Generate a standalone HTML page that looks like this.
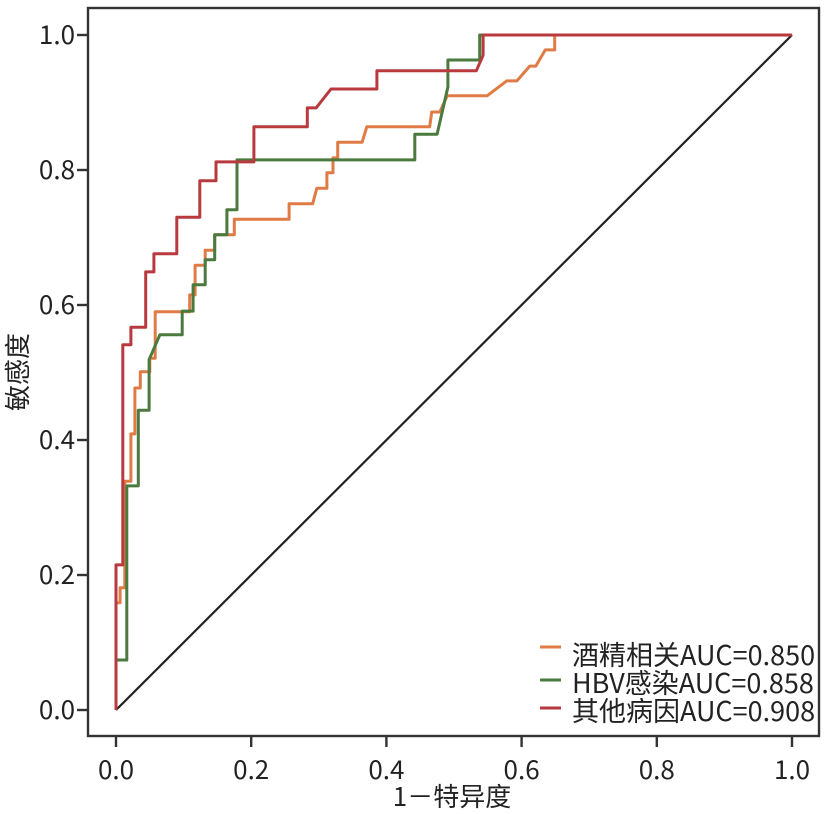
<!DOCTYPE html>
<html><head><meta charset="utf-8"><style>
body{margin:0;background:#fff;}
svg text{font-family:"Noto Sans CJK SC","Liberation Sans",sans-serif;fill:#222;}
</style></head><body>
<svg id="chart" width="827" height="809" viewBox="0 0 827 809" xmlns="http://www.w3.org/2000/svg">
<rect x="0" y="0" width="827" height="809" fill="#fff"/>
<g id="marks"></g>
<rect x="88" y="8" width="731" height="728" fill="none" stroke="#333" stroke-width="2.4"/>
<g id="ticks"></g>
<text x="452" y="806" font-size="26" text-anchor="middle">1－特异度</text>
<text transform="translate(27,372) rotate(-90)" font-size="26" text-anchor="middle">敏感度</text>
<g>
<line x1="540" y1="647" x2="561" y2="647" stroke="#e07b45" stroke-width="3"/>
<text x="572" y="665" font-size="27">酒精相关AUC=0.850</text>
<line x1="540" y1="680" x2="561" y2="680" stroke="#4a7a3e" stroke-width="3"/>
<text x="572" y="693" font-size="27">HBV感染AUC=0.858</text>
<line x1="540" y1="708" x2="561" y2="708" stroke="#b83a3f" stroke-width="3"/>
<text x="572" y="721" font-size="27">其他病因AUC=0.908</text>
</g>
</svg>
<script>
const tickValues=[0,0.2,0.4,0.6,0.8,1.0];
const tickLabels=["0.0","0.2","0.4","0.6","0.8","1.0"];
const alcFpr=[0,0,.006,.006,.013,.013,.022,.022,.028,.028,.036,.036,.050,.050,.058,.058,.109,.109,.117,.117,.132,.132,.146,.146,.175,.175,.256,.256,.291,.297,.312,.312,.321,.321,.328,.328,.364,.371,.464,.467,.479,.490,.549,.578,.593,.612,.621,.635,.649,.649,1];
const alcTpr=[0,.159,.159,.181,.181,.339,.339,.409,.409,.477,.477,.501,.501,.521,.521,.590,.590,.615,.615,.659,.659,.681,.681,.704,.704,.727,.727,.750,.750,.773,.773,.796,.796,.818,.818,.841,.841,.864,.864,.886,.886,.910,.910,.932,.932,.954,.954,.978,.978,1,1];
const hbvFpr=[0,0,.016,.016,.033,.033,.049,.049,.065,.098,.098,.114,.114,.132,.132,.146,.146,.164,.164,.179,.179,.442,.442,.475,.491,.491,.538,.538,1];
const hbvTpr=[0,.074,.074,.332,.332,.444,.444,.519,.556,.556,.591,.591,.630,.630,.667,.667,.704,.704,.741,.741,.815,.815,.853,.853,.923,.963,.963,1,1];
const othFpr=[0,0,.010,.010,.022,.022,.044,.044,.056,.056,.090,.090,.124,.124,.148,.148,.204,.204,.283,.283,.296,.318,.386,.386,.533,.543,.543,1];
const othTpr=[0,.215,.215,.541,.541,.567,.567,.649,.649,.676,.676,.730,.730,.784,.784,.812,.812,.864,.864,.892,.892,.920,.920,.947,.947,.970,1,1];
const NS="http://www.w3.org/2000/svg";
const sx=v=>116+v*676, sy=v=>710-v*675;
const marks=document.getElementById('marks'), ticks=document.getElementById('ticks');
function mk(t,a,p){const e=document.createElementNS(NS,t);for(const k in a)e.setAttribute(k,a[k]);p.appendChild(e);return e;}
const diag=mk('line',{x1:sx(0),y1:sy(0),x2:sx(1),y2:sy(1),stroke:'#222','stroke-width':2.2},marks);


function curve(fx,ty,color,name){
 const d=fx.map((v,i)=>(i?'L':'M')+sx(v).toFixed(1)+' '+sy(ty[i]).toFixed(1)).join(' ');
 const p=mk('path',{d:d,fill:'none',stroke:color,'stroke-width':3,'stroke-linejoin':'round'},marks);
 
 
}
curve(alcFpr,alcTpr,'#e07b45','roc-curve-alcohol');
curve(hbvFpr,hbvTpr,'#4a7a3e','roc-curve-hbv');
curve(othFpr,othTpr,'#b83a3f','roc-curve-other');
tickValues.forEach((v,i)=>{
 const a=mk('line',{x1:sx(v),y1:736,x2:sx(v),y2:747,stroke:'#333','stroke-width':2.4},ticks);
 
 
 const t=mk('text',{x:sx(v),y:779,'font-size':26,'text-anchor':'middle'},ticks);t.textContent=tickLabels[i];
 
 
 const b=mk('line',{x1:77,y1:sy(v),x2:88,y2:sy(v),stroke:'#333','stroke-width':2.4},ticks);
 
 
 const u=mk('text',{x:75,y:sy(v)+9,'font-size':26,'text-anchor':'end'},ticks);u.textContent=tickLabels[i];
 
 
});
</script>
</body></html>
